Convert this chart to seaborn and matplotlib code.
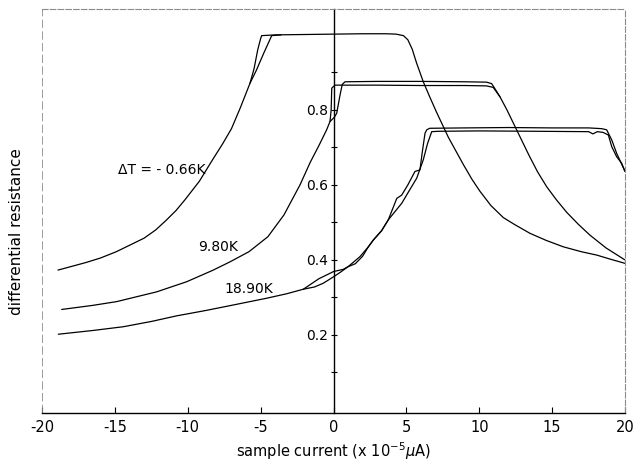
import matplotlib
matplotlib.use("Agg")
import matplotlib.pyplot as plt
import pandas as pd
import seaborn as sns

# Differential resistance vs. sample current for three temperature offsets.
# Each offset is swept twice; the second sweep only differs from the first
# on the hysteretic edges and plateaus, so it is stored from where they split.

# dT = -0.66 K
cur_a1 = [-18.9, -17.0, -16.0, -14.9, -13.0, -12.2, -11.5, -10.8, -10.2, -9.2,
          -8.3, -7.6, -7.0, -6.4, -5.73, -5.45, -5.2, -5.0, -4.93, -4.0,
          -2.0, 0.0, 2.0, 3.6, 4.3, 4.8, 5.1, 5.4, 5.7, 6.16, 6.6, 7.08,
          7.88, 8.9, 9.5, 10.05, 10.8, 11.65, 12.4, 13.48, 14.6, 15.77,
          17.0, 18.06, 19.0, 20.0]
res_a1 = [0.373, 0.393, 0.405, 0.422, 0.458, 0.48, 0.505, 0.532, 0.56, 0.61,
          0.667, 0.71, 0.75, 0.805, 0.871, 0.91, 0.96, 0.99, 0.998, 1.0,
          1.001, 1.002, 1.003, 1.003, 1.002, 0.998, 0.987, 0.962, 0.925,
          0.875, 0.835, 0.793, 0.727, 0.655, 0.615, 0.583, 0.545, 0.513,
          0.495, 0.471, 0.452, 0.435, 0.422, 0.413, 0.402, 0.391]
cur_a2 = [-5.73, -5.3, -4.8, -4.24, -3.6]
res_a2 = [0.871, 0.905, 0.95, 0.998, 1.0]

# dT = 9.80 K
cur_b1 = [-18.65, -16.5, -14.87, -12.13, -10.07, -8.25, -7.1, -5.8, -4.5,
          -3.4, -2.3, -1.6, -1.0, -0.47, -0.24, -0.16, -0.12, 0.1, 3.0, 6.0,
          9.0, 10.5, 10.96, 11.42, 11.9, 12.4, 12.9, 13.4, 14.0, 14.63,
          15.3, 16.0, 16.8, 17.6, 18.7, 20.0]
res_b1 = [0.268, 0.279, 0.289, 0.315, 0.342, 0.373, 0.395, 0.422, 0.462,
          0.52, 0.60, 0.66, 0.705, 0.747, 0.769, 0.80, 0.858, 0.866, 0.866,
          0.865, 0.865, 0.864, 0.86, 0.835, 0.80, 0.76, 0.72, 0.68, 0.635,
          0.595, 0.56, 0.527, 0.495, 0.466, 0.432, 0.40]
cur_b2 = [-0.24, 0.05, 0.22, 0.45, 0.6, 0.79, 3.0, 6.0, 9.0, 10.5, 10.85,
          11.1, 11.42]
res_b2 = [0.769, 0.78, 0.791, 0.84, 0.868, 0.875, 0.876, 0.876, 0.875,
          0.874, 0.87, 0.855, 0.835]

# dT = 18.90 K
cur_c1 = [-18.88, -16.5, -14.42, -12.5, -10.76, -8.8, -6.87, -4.58, -3.2,
          -2.07, -1.0, 0.0, 0.67, 1.0, 1.82, 2.39, 2.73, 3.3, 3.76, 4.34,
          4.68, 5.1, 5.59, 5.93, 6.1, 6.28, 6.4, 6.6, 9.0, 12.0, 15.0, 17.5,
          18.4, 18.74, 19.09, 19.43, 20.0]
res_c1 = [0.202, 0.212, 0.222, 0.236, 0.251, 0.265, 0.28, 0.298, 0.31,
          0.322, 0.35, 0.369, 0.375, 0.382, 0.409, 0.435, 0.453, 0.478, 0.507,
          0.564, 0.573, 0.60, 0.636, 0.64, 0.69, 0.738, 0.747, 0.751, 0.752,
          0.753, 0.752, 0.752, 0.75, 0.747, 0.72, 0.684, 0.636]
cur_c2 = [-2.07, -1.3, -0.7, 0.0, 0.5, 1.0, 1.5, 2.0, 2.39, 2.73, 3.3, 3.76,
          4.68, 5.2, 5.71, 6.16, 6.45, 6.74, 7.2, 10.0, 14.0, 17.5, 17.8,
          18.1, 18.5, 18.86, 19.09, 19.43, 19.77, 20.0]
res_c2 = [0.322, 0.328, 0.338, 0.355, 0.368, 0.382, 0.39, 0.41, 0.435, 0.453,
          0.478, 0.507, 0.551, 0.585, 0.618, 0.667, 0.71, 0.742, 0.743, 0.744,
          0.743, 0.742, 0.736, 0.742, 0.74, 0.733, 0.702, 0.675, 0.658, 0.636]

x_ticks = [-20, -15, -10, -5, 0, 5, 10, 15, 20]
y_ticks = [0.1, 0.2, 0.3, 0.4, 0.5, 0.6, 0.7, 0.8, 0.9]
y_tick_labels = ["", "0.2", "", "0.4", "", "0.6", "", "0.8", ""]

sweeps = {
    "a1": (cur_a1, res_a1), "a2": (cur_a2, res_a2),
    "b1": (cur_b1, res_b1), "b2": (cur_b2, res_b2),
    "c1": (cur_c1, res_c1), "c2": (cur_c2, res_c2),
}
frames = []
for name, (cur, res) in sweeps.items():
    frames.append(pd.DataFrame({"current": cur, "resistance": res, "sweep": name}))
df = pd.concat(frames, ignore_index=True)

sns.set_theme(style="white")
plt.rcParams["font.family"] = ["DejaVu Sans"]
plt.rcParams["axes.unicode_minus"] = False
plt.rcParams["text.color"] = "black"
plt.rcParams["axes.labelcolor"] = "black"
plt.rcParams["xtick.color"] = "black"
plt.rcParams["ytick.color"] = "black"

fig = plt.figure(figsize=(6.36, 4.63), dpi=100)
ax = fig.add_axes([42 / 636, 50 / 463, 583 / 636, 404 / 463])

sns.lineplot(data=df, x="current", y="resistance", units="sweep",
             estimator=None, sort=False, color="black", linewidth=0.9,
             ax=ax, legend=False)

ax.set_xlim(-20, 20)
ax.set_ylim(-0.008, 1.069)

# y axis runs through zero current; outer frame drawn light and broken
ax.spines["left"].set_position(("data", 0))
ax.spines["left"].set_color("black")
ax.spines["left"].set_linewidth(1.0)
ax.spines["bottom"].set_color("black")
ax.spines["bottom"].set_linewidth(1.0)
for side in ("top", "right"):
    ax.spines[side].set_color("#8a8a8a")
    ax.spines[side].set_linewidth(0.8)
    ax.spines[side].set_linestyle((0, (5, 2)))
ax.axvline(-20, color="#8a8a8a", linewidth=1.2, linestyle=(0, (5, 2)))

ax.set_xticks(x_ticks)
ax.set_xticklabels([str(t) for t in x_ticks])
ax.set_yticks(y_ticks)
ax.set_yticklabels(y_tick_labels)
ax.tick_params(axis="x", direction="in", length=4.5, width=0.8, pad=5,
               labelsize=10.5, colors="black", bottom=True)
ax.tick_params(axis="y", direction="inout", length=5, width=0.8, pad=1.5,
               labelsize=10, colors="black", left=True)

ax.set_xlabel("sample current (x 10$^{-5}$$\\mu$A)", fontsize=10.5,
              labelpad=4)
ax.set_ylabel("differential resistance", fontsize=11)
ax.yaxis.set_label_coords(24 / 636, 0.5, transform=fig.transFigure)

ax.text(-8.8, 0.64, "\u0394T = - 0.66K", ha="right", va="center", fontsize=10)
ax.text(-7.9, 0.435, "9.80K", ha="center", va="center", fontsize=10)
ax.text(-5.8, 0.323, "18.90K", ha="center", va="center", fontsize=10)

fig.savefig("out.png", dpi=100)
